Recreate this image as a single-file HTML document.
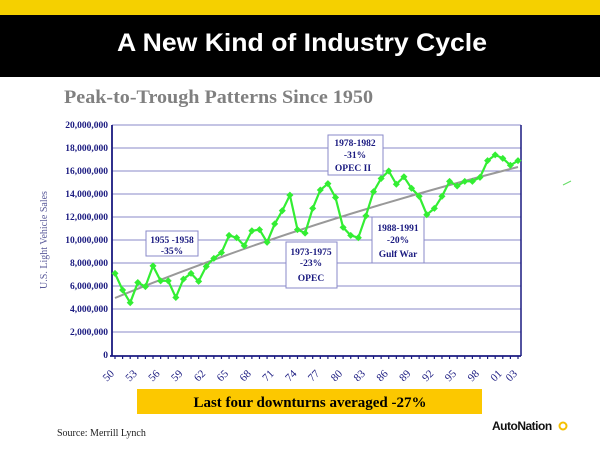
<!DOCTYPE html>
<html><head><meta charset="utf-8"><style>
html,body{margin:0;padding:0;width:600px;height:450px;overflow:hidden;background:#fff}
</style></head><body>
<svg width="600" height="450" viewBox="0 0 600 450" xmlns="http://www.w3.org/2000/svg" font-family="Liberation Serif, serif">
<rect x="0" y="0" width="600" height="15" fill="#f5d000"/>
<rect x="0" y="15" width="600" height="62" fill="#000"/>
<text x="302" y="51" text-anchor="middle" font-family="Liberation Sans, sans-serif" font-size="25" font-weight="bold" fill="#fff" textLength="370" lengthAdjust="spacingAndGlyphs">A New Kind of Industry Cycle</text>
<text x="64" y="103" font-size="19" font-weight="bold" fill="#808080" textLength="309" lengthAdjust="spacingAndGlyphs">Peak-to-Trough Patterns Since 1950</text>
<g id="grid" stroke="#8a8ac8" stroke-width="1">
<line x1="112" y1="125" x2="521" y2="125"/>
<line x1="112" y1="148" x2="521" y2="148"/>
<line x1="112" y1="171" x2="521" y2="171"/>
<line x1="112" y1="194" x2="521" y2="194"/>
<line x1="112" y1="217" x2="521" y2="217"/>
<line x1="112" y1="240" x2="521" y2="240"/>
<line x1="112" y1="263" x2="521" y2="263"/>
<line x1="112" y1="286" x2="521" y2="286"/>
<line x1="112" y1="309" x2="521" y2="309"/>
<line x1="112" y1="332" x2="521" y2="332"/>
</g>
<line x1="521" y1="125" x2="521" y2="356" stroke="#1a1a80" stroke-width="1.5"/>
<line x1="112" y1="125" x2="112" y2="356" stroke="#1a1a80" stroke-width="1.8"/>
<line x1="110" y1="356" x2="521" y2="356" stroke="#1a1a80" stroke-width="1.8"/>
<g font-size="9.5" fill="#1a1a80" text-anchor="end" font-weight="bold">
<text x="108" y="128">20,000,000</text><text x="108" y="151">18,000,000</text><text x="108" y="174">16,000,000</text><text x="108" y="197">14,000,000</text><text x="108" y="220">12,000,000</text><text x="108" y="243">10,000,000</text><text x="108" y="266">8,000,000</text><text x="108" y="289">6,000,000</text><text x="108" y="312">4,000,000</text><text x="108" y="335">2,000,000</text><text x="108" y="358">0</text>
</g>
<text transform="translate(47,240) rotate(-90)" text-anchor="middle" font-size="10" fill="#5a5a9a">U.S. Light Vehicle Sales</text>
<g id="ticks" stroke="#1a1a80" stroke-width="1.2"></g>
<g id="xl" font-size="11" fill="#1a1a80"></g>
<path id="trend" d="M115,298 Q300,222 518,167" fill="none" stroke="#999" stroke-width="2"/>
<polyline id="ser" fill="none" stroke="#33ee33" stroke-width="2.2"/>
<g id="mk" fill="#33ee33"></g>
<line x1="563" y1="185" x2="571" y2="181" stroke="#66dd66" stroke-width="1"/>
<g font-size="9.5" fill="#1a1a80" text-anchor="middle" font-weight="bold">
<rect x="146" y="231" width="52" height="25" fill="#fff" stroke="#8a8ac8"/>
<text x="172" y="243">1955 -1958</text><text x="172" y="254">-35%</text>
<rect x="286" y="242" width="51" height="46" fill="#fff" stroke="#8a8ac8"/>
<text x="311" y="255">1973-1975</text><text x="311" y="266">-23%</text><text x="311" y="281">OPEC</text>
<rect x="328" y="135" width="55" height="40" fill="#fff" stroke="#8a8ac8"/>
<text x="355" y="146">1978-1982</text><text x="355" y="158">-31%</text><text x="353" y="171">OPEC II</text>
<rect x="372" y="217" width="52" height="46" fill="#fff" stroke="#8a8ac8"/>
<text x="398" y="231">1988-1991</text><text x="398" y="243">-20%</text><text x="398" y="257">Gulf War</text>
</g>
<rect x="137" y="389" width="345" height="25" fill="#fcc800"/>
<text x="310" y="407" text-anchor="middle" font-size="15" font-weight="bold" fill="#000">Last four downturns averaged -27%</text>
<text x="57" y="436" font-size="10" fill="#222">Source: Merrill Lynch</text>
<text x="492" y="430" font-family="Liberation Sans, sans-serif" font-size="12" font-weight="bold" fill="#111" letter-spacing="-0.5">AutoNation</text>
<circle cx="563" cy="426" r="3.5" fill="none" stroke="#f5c000" stroke-width="2"/>
</svg>
<script>
var v=[7.1,5.65,4.55,6.3,5.95,7.75,6.45,6.45,5.0,6.6,7.1,6.4,7.7,8.4,8.9,10.4,10.2,9.5,10.8,10.9,9.8,11.4,12.55,13.9,10.9,10.6,12.75,14.35,14.9,13.7,11.1,10.4,10.2,12.1,14.2,15.35,16.0,14.85,15.5,14.5,13.8,12.2,12.75,13.8,15.1,14.7,15.1,15.1,15.45,16.9,17.4,17.1,16.5,16.9];
var ns="http://www.w3.org/2000/svg",pts=[],mk=document.getElementById('mk'),tk=document.getElementById('ticks'),xl=document.getElementById('xl');
for(var i=0;i<v.length;i++){var x=115+i*(403/53),y=355-v[i]*11.5;pts.push(x.toFixed(1)+','+y.toFixed(1));
var r=document.createElementNS(ns,'rect');r.setAttribute('x',x-2.5);r.setAttribute('y',y-2.5);r.setAttribute('width',5);r.setAttribute('height',5);r.setAttribute('transform','rotate(45 '+x+' '+y+')');mk.appendChild(r);
var l=document.createElementNS(ns,'line');l.setAttribute('x1',x);l.setAttribute('x2',x);l.setAttribute('y1',356);l.setAttribute('y2',359);tk.appendChild(l);
var yr=1950+i;if((i%3==0&&yr<2001)||yr==2001||yr==2003){var t=document.createElementNS(ns,'text');var s=String(yr).slice(2);t.textContent=s;t.setAttribute('transform','translate('+(x-8)+',382) rotate(-45)');xl.appendChild(t);}}
document.getElementById('ser').setAttribute('points',pts.join(' '));
</script>
</body></html>
